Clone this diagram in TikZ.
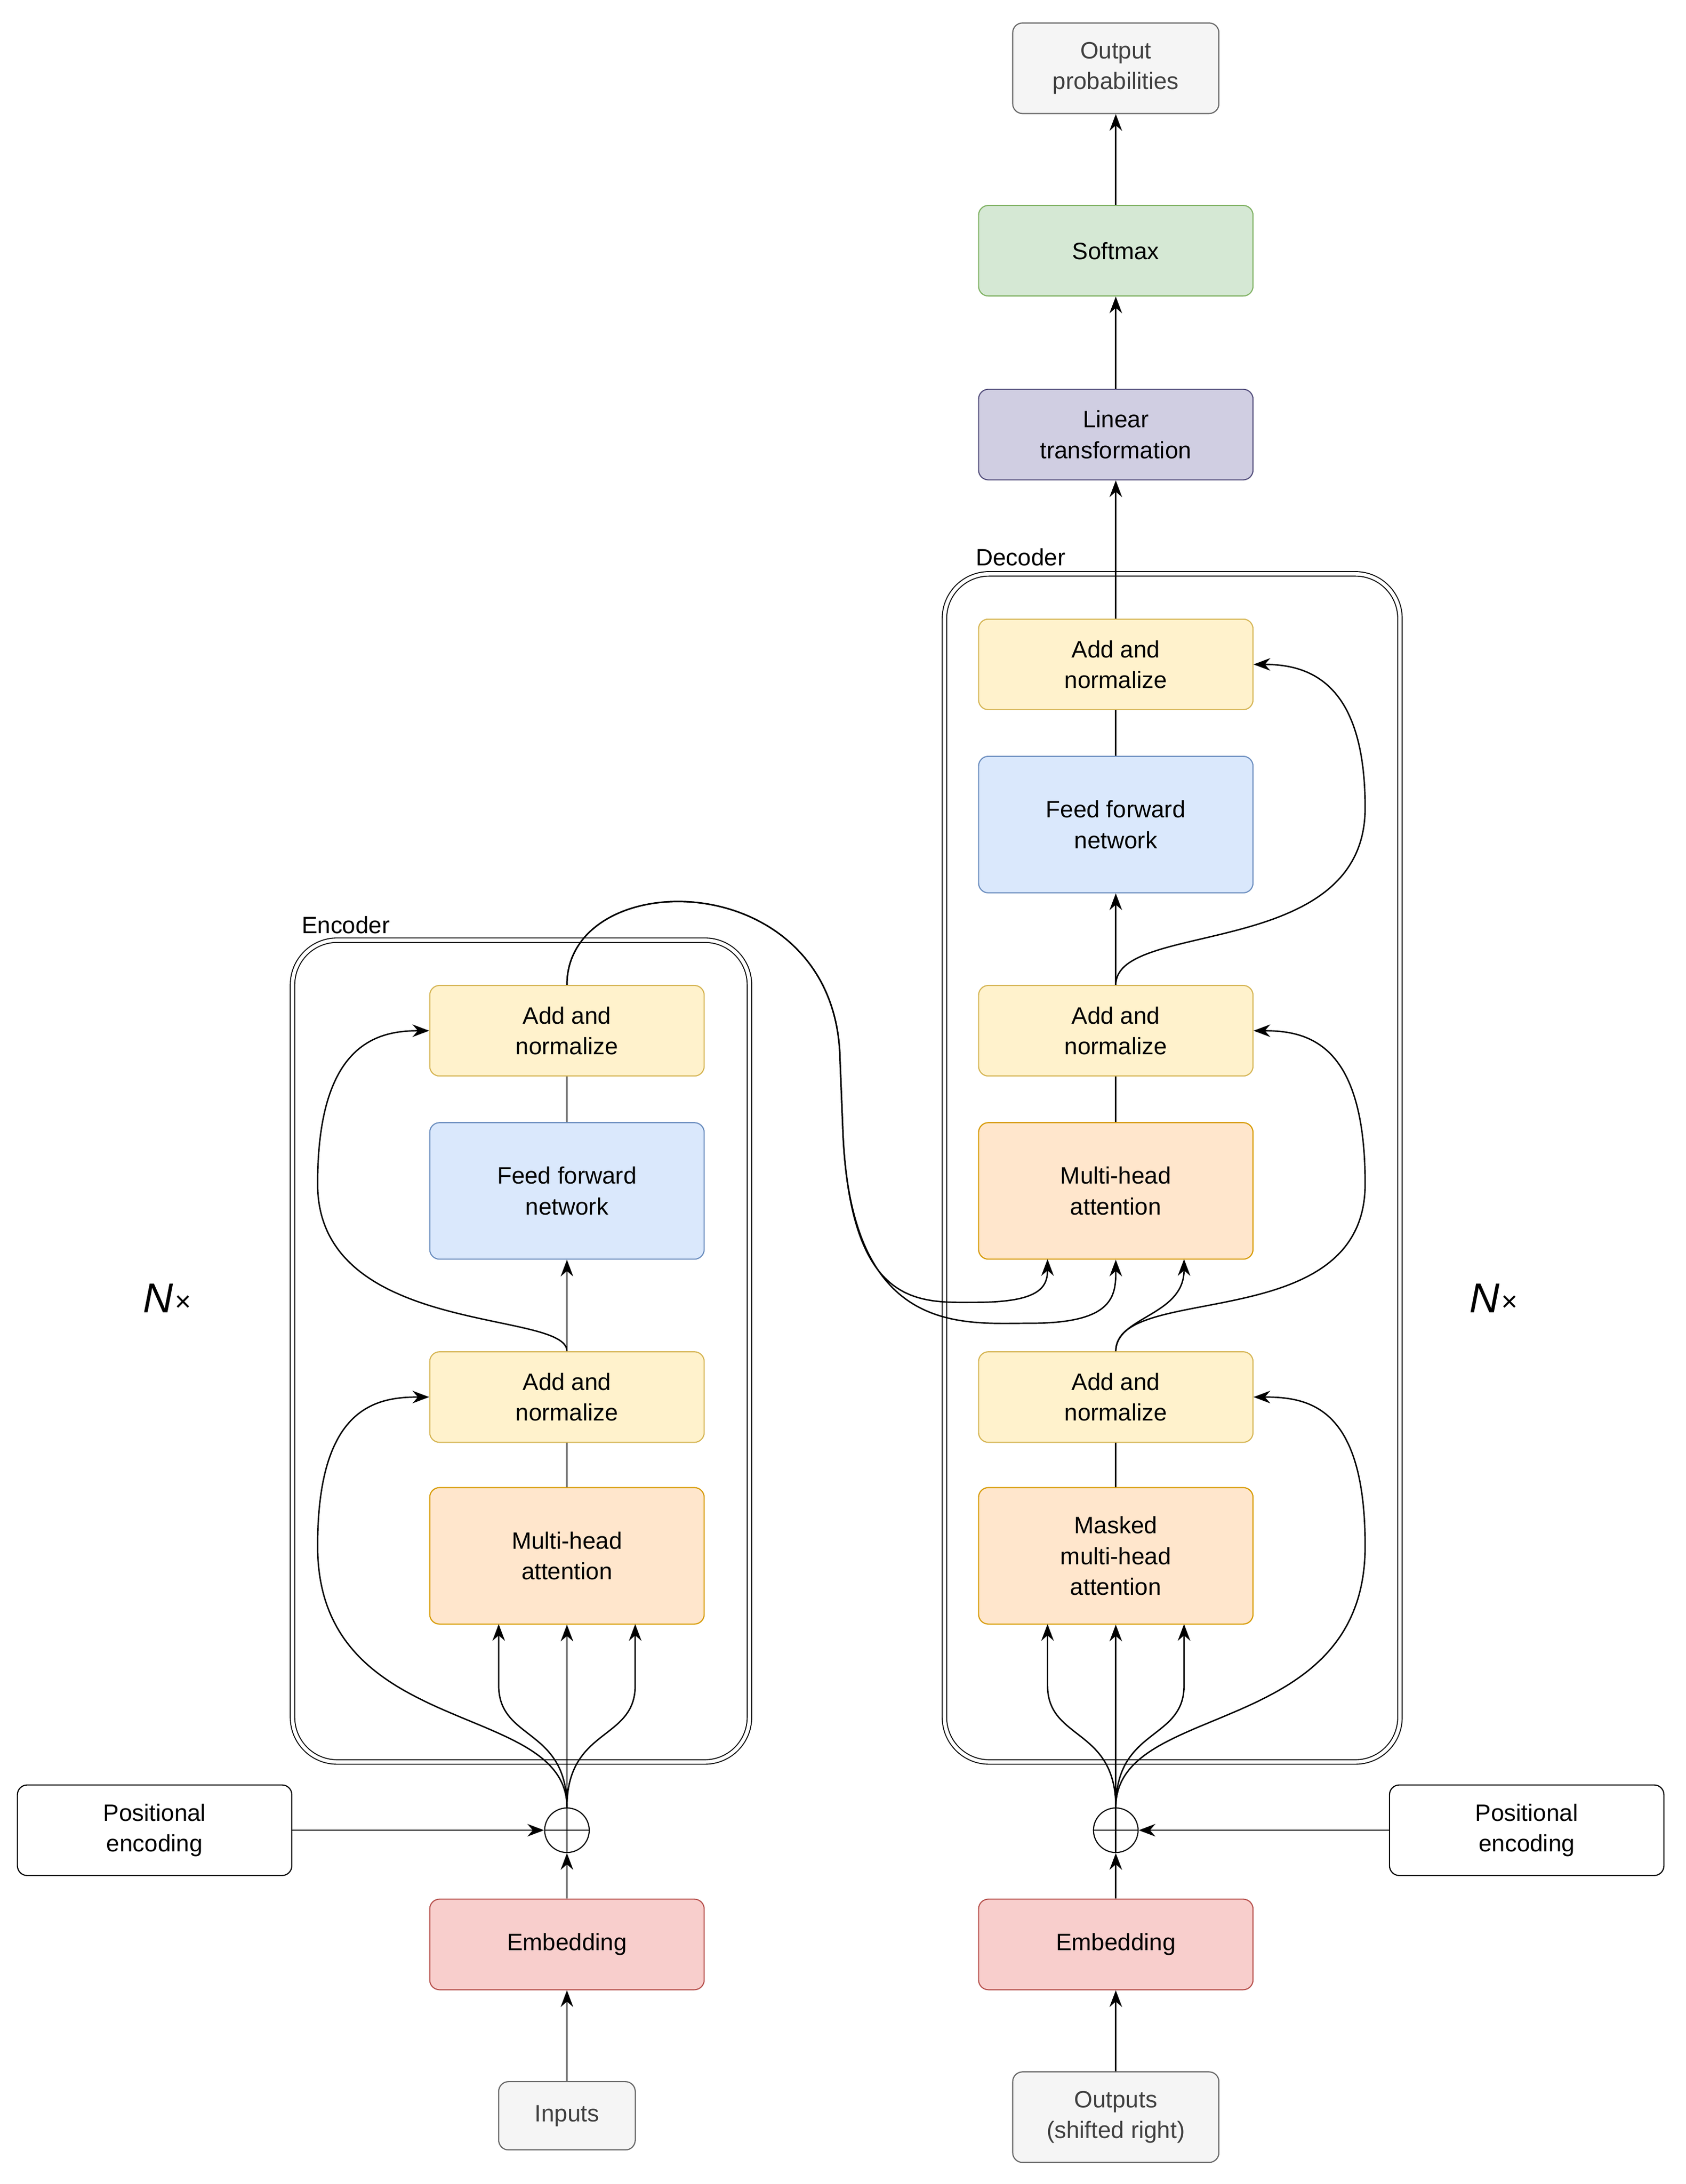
\documentclass[tikz,border=0pt]{standalone}
\usepackage{fontspec}
\setmainfont{Liberation Sans}
\usetikzlibrary{arrows.meta}
\definecolor{yf}{HTML}{FFF2CC}\definecolor{yd}{HTML}{D6B656}
\definecolor{bf}{HTML}{DAE8FC}\definecolor{bd}{HTML}{6C8EBF}
\definecolor{of}{HTML}{FFE6CC}\definecolor{od}{HTML}{D79B00}
\definecolor{rf}{HTML}{F8CECC}\definecolor{rd}{HTML}{B85450}
\definecolor{gf}{HTML}{D5E8D4}\definecolor{gd}{HTML}{82B366}
\definecolor{pf}{HTML}{D0CEE2}\definecolor{pd}{HTML}{56517E}
\definecolor{sf}{HTML}{F5F5F5}\definecolor{sd}{HTML}{666666}
\begin{document}
\begin{tikzpicture}[x=1pt,y=-1pt,
 box/.style={draw,rounded corners=7pt,minimum width=197pt,minimum height=65pt,align=center,font=\fontsize{17}{22}\selectfont,line width=0.8pt},
 yel/.style={box,fill=yf,draw=yd},
 blu/.style={box,fill=bf,draw=bd,minimum height=98pt},
 org/.style={box,fill=of,draw=od,minimum height=98pt},
 red/.style={box,fill=rf,draw=rd},
 gry/.style={box,fill=sf,draw=sd,minimum width=148pt,text=black!75},
 wht/.style={box,fill=white,draw=black},
 frame/.style={draw,double,double distance=2.5pt,rounded corners=32pt,line width=0.7pt},
 arr/.style={-{Stealth[length=12pt,width=9pt]},line width=1pt},
 ln/.style={line width=1pt},
 lab/.style={font=\fontsize{17}{22}\selectfont,anchor=base west}]
\useasboundingbox (0,0) rectangle (1210,1568);
% frames
\draw[frame] (210,675) rectangle (538,1265);
\draw[frame] (678,412) rectangle (1005,1265);
\node[lab] (encl) at (213,670) {Encoder};
\node[lab] (decl) at (697,406) {Decoder};
\node[font=\fontsize{30}{30}\selectfont\itshape] (nx1) at (120,932) {N\kern1pt\raisebox{1pt}{\fontsize{20}{20}\selectfont ×}};
\node[font=\fontsize{30}{30}\selectfont\itshape] (nx2) at (1072,932) {N\kern1pt\raisebox{1pt}{\fontsize{20}{20}\selectfont ×}};
% encoder
\node[gry,minimum width=98pt,minimum height=49pt] (inp) at (407,1519) {Inputs};
\node[red] (eemb) at (407,1396) {Embedding};
\node[draw,circle,minimum size=32pt,inner sep=0,line width=0.8pt] (eplus) at (407,1314) {};
\draw[ln] (eplus.north)--(eplus.south) (eplus.west)--(eplus.east);
\node[wht] (epos) at (111,1314) {Positional\\encoding};
\node[org] (emha) at (407,1117) {Multi-head\\attention};
\node[yel] (ean1) at (407,1003) {Add and\\normalize};
\node[blu] (effn) at (407,855) {Feed forward\\network};
\node[yel] (ean2) at (407,740) {Add and\\normalize};
% decoder
\node[gry] (out) at (801,1520) {Outputs\\(shifted right)};
\node[red] (demb) at (801,1396) {Embedding};
\node[draw,circle,minimum size=32pt,inner sep=0,line width=0.8pt] (dplus) at (801,1314) {};
\draw[ln] (dplus.north)--(dplus.south) (dplus.west)--(dplus.east);
\node[wht] (dpos) at (1096,1314) {Positional\\encoding};
\node[org,minimum height=98pt] (dmm) at (801,1117) {Masked\\multi-head\\attention};
\node[yel] (dan1) at (801,1003) {Add and\\normalize};
\node[org] (dmha) at (801,855) {Multi-head\\attention};
\node[yel] (dan2) at (801,740) {Add and\\normalize};
\node[blu] (dffn) at (801,592) {Feed forward\\network};
\node[yel] (dan3) at (801,477) {Add and\\normalize};
\node[box,fill=pf,draw=pd] (lin) at (801,312) {Linear\\transformation};
\node[box,fill=gf,draw=gd] (soft) at (801,180) {Softmax};
\node[gry] (prob) at (801,49) {Output\\probabilities};
% coordinates
\coordinate (emL) at (358,1166); \coordinate (emR) at (456,1166);
\coordinate (dmL) at (752,1166); \coordinate (dmR) at (850,1166);
\coordinate (daL) at (752,904); \coordinate (daR) at (850,904);
% encoder connectors
\draw[arr] (inp)--(eemb);
\draw[arr] (eemb)--(eplus);
\draw[arr] (epos)--(eplus);
\draw[arr] (eplus.north)--(emha);
\draw[arr] (eplus.north) .. controls (407,1240) and (358,1250) .. (358,1210) -- (emL);
\draw[arr] (eplus.north) .. controls (407,1240) and (456,1250) .. (456,1210) -- (emR);
\draw[arr] (eplus.north) .. controls (407,1220) and (228,1250) .. (228,1110) .. controls (228,1010) and (270,1003) .. (ean1.west);
\draw[ln] (emha)--(ean1);
\draw[arr] (ean1)--(effn);
\draw[arr] (ean1.north) .. controls (407,940) and (228,960) .. (228,850) .. controls (228,750) and (270,740) .. (ean2.west);
\draw[ln] (effn)--(ean2);
\draw[arr] (ean2.north) .. controls (407,620) and (600,620) .. (603,760) -- (605,810) .. controls (610,940) and (660,935) .. (700,935) .. controls (745,935) and (752,925) .. (daL);
\draw[arr] (ean2.north) .. controls (407,620) and (600,620) .. (603,760) -- (605,810) .. controls (610,960) and (690,950) .. (740,950) .. controls (800,950) and (801,930) .. (dmha.south);
% decoder connectors
\draw[arr] (out)--(demb);
\draw[arr] (demb)--(dplus);
\draw[arr] (dpos)--(dplus);
\draw[arr] (dplus.north)--(dmm);
\draw[arr] (dplus.north) .. controls (801,1240) and (752,1250) .. (752,1210) -- (dmL);
\draw[arr] (dplus.north) .. controls (801,1240) and (850,1250) .. (850,1210) -- (dmR);
\draw[arr] (dplus.north) .. controls (801,1220) and (980,1250) .. (980,1110) .. controls (980,1010) and (940,1003) .. (dan1.east);
\draw[ln] (dmm)--(dan1);
\draw[arr] (dan1.north) .. controls (801,945) and (850,945) .. (daR);
\draw[arr] (dan1.north) .. controls (801,920) and (980,960) .. (980,850) .. controls (980,750) and (940,740) .. (dan2.east);
\draw[ln] (dmha)--(dan2);
\draw[arr] (dan2)--(dffn);
\draw[arr] (dan2.north) .. controls (801,660) and (980,690) .. (980,580) .. controls (980,490) and (940,477) .. (dan3.east);
\draw[ln] (dffn)--(dan3);
\draw[arr] (dan3)--(lin);
\draw[arr] (lin)--(soft);
\draw[arr] (soft)--(prob);
\end{tikzpicture}
\end{document}
